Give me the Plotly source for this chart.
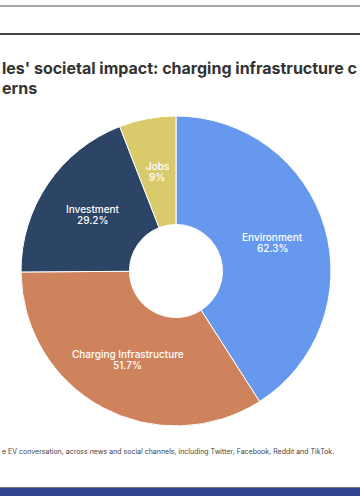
import math
import plotly.graph_objects as go

labels = ["Environment", "Charging Infrastructure", "Investment", "Jobs"]
values = [62.3, 51.7, 29.2, 9]
colors = ["#6699ee", "#cf835d", "#2c4466", "#d9cb6c"]

title_line1 = "les' societal impact: charging infrastructure c"
title_line2 = "erns"
footnote = "e EV conversation, across news and social channels, including Twitter, Facebook, Reddit and TikTok."

W, H = 360, 500
# pie domain in pixels
dx0, dx1 = 21, 331
dy0, dy1 = 74, 384  # from bottom
hole = 0.3

fig = go.Figure(go.Pie(
    labels=labels,
    values=values,
    textinfo="none",
    sort=False,
    direction="clockwise",
    rotation=0,
    hole=hole,
    marker=dict(colors=colors, line=dict(color="white", width=1)),
    domain=dict(x=[dx0 / W, dx1 / W], y=[dy0 / H, dy1 / H]),
    showlegend=False,
    hoverinfo="skip",
))

# slice labels at the middle of each ring segment, derived from the values
cx = (dx0 + dx1) / 2
cy = (dy0 + dy1) / 2
R = (dx1 - dx0) / 2
rmid = R * (1 + hole) / 2
total = sum(values)
annotations = []
cum = 0
for lab, v in zip(labels, values):
    mid = (cum + v / 2) / total * 2 * math.pi
    cum += v
    px = cx + rmid * math.sin(mid)
    py = cy + rmid * math.cos(mid)
    for txt, shift in ((lab, 5.5), (f"{v:g}%", -5.5)):
        annotations.append(dict(
            text=txt, xref="paper", yref="paper", x=px / W, y=py / H,
            xanchor="center", yanchor="middle", yshift=shift, showarrow=False,
            font=dict(size=10, color="white", family="Inter", weight=500)))

shapes = [
    dict(type="line", xref="paper", yref="paper", x0=0, x1=1, y0=1 - 6 / H, y1=1 - 6 / H,
         line=dict(color="#888888", width=1.5)),
    dict(type="line", xref="paper", yref="paper", x0=0, x1=1, y0=1 - 34 / H, y1=1 - 34 / H,
         line=dict(color="#444444", width=2)),
    dict(type="line", xref="paper", yref="paper", x0=0, x1=1, y0=1 - 487.5 / H, y1=1 - 487.5 / H,
         line=dict(color="#777777", width=1)),
    dict(type="rect", xref="paper", yref="paper", x0=0, x1=1, y0=1 - 496 / H, y1=1 - 488 / H,
         fillcolor="#2f448c", line=dict(width=0)),
]

annotations += [
    dict(text=title_line1, xref="paper", yref="paper", x=0, y=1 - 68 / H, xanchor="left", yanchor="middle",
         showarrow=False, font=dict(size=16, color="#333333", family="Inter", weight="bold")),
    dict(text=title_line2, xref="paper", yref="paper", x=0, y=1 - 88 / H, xanchor="left", yanchor="middle",
         showarrow=False, font=dict(size=16, color="#333333", family="Inter", weight="bold")),
    dict(text=footnote, xref="paper", yref="paper", x=0, y=1 - 451 / H, xanchor="left", yanchor="middle",
         showarrow=False, font=dict(size=7, color="#444444", family="Inter")),
]

fig.update_layout(
    width=W, height=H,
    margin=dict(l=0, r=0, t=0, b=0),
    paper_bgcolor="white", plot_bgcolor="white",
    shapes=shapes, annotations=annotations,
)

fig.write_html("out.html")
